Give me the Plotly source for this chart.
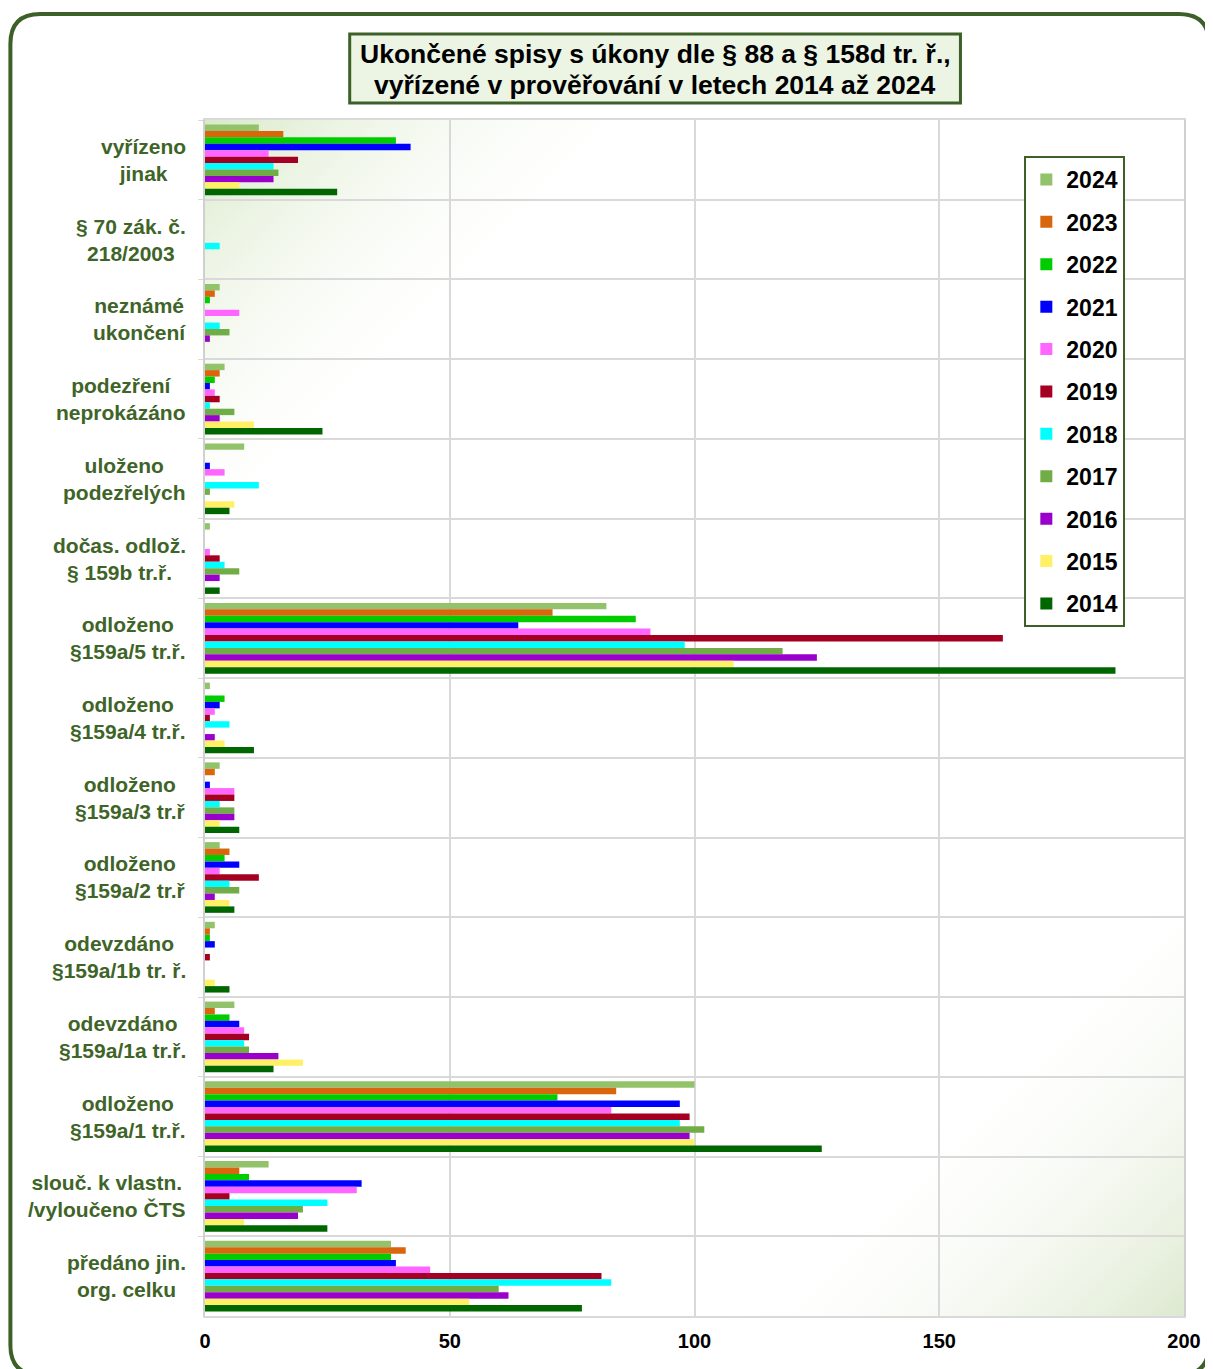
"""Ukončené spisy - horizontal grouped bars by year."""

import base64

import plotly.graph_objects as go

CATEGORIES = [
    "vyřízeno<br>jinak",
    "§ 70 zák. č.<br>218/2003",
    "neznámé<br>ukončení",
    "podezření<br>neprokázáno",
    "uloženo<br>podezřelých",
    "dočas. odlož.<br>§ 159b tr.ř.",
    "odloženo<br>§159a/5 tr.ř.",
    "odloženo<br>§159a/4 tr.ř.",
    "odloženo<br>§159a/3 tr.ř",
    "odloženo<br>§159a/2 tr.ř",
    "odevzdáno<br>§159a/1b tr. ř.",
    "odevzdáno<br>§159a/1a tr.ř.",
    "odloženo<br>§159a/1 tr.ř.",
    "slouč. k vlastn.<br>/vyloučeno ČTS",
    "předáno jin.<br>org. celku",
]

YEARS = ["2024", "2023", "2022", "2021", "2020", "2019", "2018", "2017", "2016", "2015", "2014"]

V2024 = [11, 0, 3, 4, 8, 1, 82, 1, 3, 3, 2, 6, 100, 13, 38]
V2023 = [16, 0, 2, 3, 0, 0, 71, 0, 2, 5, 1, 2, 84, 7, 41]
V2022 = [39, 0, 1, 2, 0, 0, 88, 4, 0, 4, 1, 5, 72, 9, 38]
V2021 = [42, 0, 0, 1, 1, 0, 64, 3, 1, 7, 2, 7, 97, 32, 39]
V2020 = [13, 0, 7, 2, 4, 1, 91, 2, 6, 3, 0, 8, 83, 31, 46]
V2019 = [19, 0, 0, 3, 0, 3, 163, 1, 6, 11, 1, 9, 99, 5, 81]
V2018 = [14, 3, 3, 1, 11, 4, 98, 5, 3, 5, 0, 8, 97, 25, 83]
V2017 = [15, 0, 5, 6, 1, 7, 118, 0, 6, 7, 0, 9, 102, 20, 60]
V2016 = [14, 0, 1, 3, 0, 3, 125, 2, 6, 2, 0, 15, 99, 19, 62]
V2015 = [7, 0, 0, 10, 6, 0, 108, 4, 3, 5, 2, 20, 100, 8, 54]
V2014 = [27, 0, 0, 24, 5, 3, 186, 10, 7, 6, 5, 14, 126, 25, 77]

VALUES = [V2024, V2023, V2022, V2021, V2020, V2019, V2018, V2017, V2016, V2015, V2014]

COLORS = [
    "#92c36b", "#d9650c", "#00cc00", "#0000ff", "#ff66ff", "#a50021",
    "#00ffff", "#70ad47", "#9900cc", "#fff066", "#006600",
]

TITLE_LINES = [
    "Ukončené spisy s úkony dle § 88 a § 158d tr. ř.,",
    "vyřízené v prověřování v letech 2014 až 2024",
]

FONT = "Liberation Sans, Arial, sans-serif"
LABEL_GREEN = "#3f6428"
BORDER_GREEN = "#3d5f28"

# the page body adds an 8px margin, so the figure is laid out 8px up/left
OFF = 8
W, H = 1213 - OFF, 1369 - OFF
L, T = 205 - OFF, 120 - OFF
R = W - (1186 - OFF)
B = H - (1316 - OFF)
PW, PH = W - L - R, H - T - B


def px_x(x):
    """Screen pixel x of the reference -> paper x."""
    return (x - OFF - L) / PW


def px_y(y):
    """Screen pixel y of the reference -> paper y."""
    return (H - B - (y - OFF)) / PH


# faint green corner gradients behind the plot area
svg = f"""<svg xmlns='http://www.w3.org/2000/svg' width='{PW}' height='{PH}' viewBox='0 0 {PW} {PH}' preserveAspectRatio='none'>
<defs>
<linearGradient id='a' gradientUnits='userSpaceOnUse' x1='0' y1='0' x2='240' y2='240'>
<stop offset='0' stop-color='#d9e9c8' stop-opacity='1'/><stop offset='1' stop-color='#ffffff' stop-opacity='0'/>
</linearGradient>
<linearGradient id='b' gradientUnits='userSpaceOnUse' x1='{PW}' y1='{PH}' x2='{PW - 240}' y2='{PH - 240}'>
<stop offset='0' stop-color='#dde9cf' stop-opacity='1'/><stop offset='1' stop-color='#ffffff' stop-opacity='0'/>
</linearGradient>
</defs>
<rect width='{PW}' height='{PH}' fill='url(#a)'/>
<rect width='{PW}' height='{PH}' fill='url(#b)'/>
</svg>"""
bg_uri = "data:image/svg+xml;base64," + base64.b64encode(svg.encode()).decode()

fig = go.Figure()
for year, vals, color in zip(YEARS, VALUES, COLORS):
    fig.add_trace(
        go.Bar(
            name=year,
            x=vals,
            y=CATEGORIES,
            orientation="h",
            marker=dict(color=color, line=dict(width=0)),
            legendgroup=year,
        )
    )

annotations = [
    dict(
        text=cat,
        xref="paper",
        yref="y",
        x=px_x(188),
        y=cat,
        xanchor="right",
        yanchor="middle",
        align="center",
        showarrow=False,
        font=dict(family=FONT, size=21, color=LABEL_GREEN, weight="bold"),
    )
    for cat in CATEGORIES
]
for line, ypx in zip(TITLE_LINES, [54, 85]):
    annotations.append(
        dict(
            text=line,
            xref="paper",
            yref="paper",
            x=px_x(656),
            y=px_y(ypx),
            xanchor="center",
            yanchor="middle",
            showarrow=False,
            font=dict(family=FONT, size=26.5, color="#000000", weight="bold"),
        )
    )

# outer rounded frame
x0, x1, y0, y1, r = px_x(10), px_x(1211), px_y(14), px_y(1375), 30
rx, ry = r / PW, r / PH
frame = (
    f"M {x0},{y1 + ry} L {x0},{y0 - ry} Q {x0},{y0} {x0 + rx},{y0} "
    f"L {x1 - rx},{y0} Q {x1},{y0} {x1},{y0 - ry} "
    f"L {x1},{y1 + ry} Q {x1},{y1} {x1 - rx},{y1} "
    f"L {x0 + rx},{y1} Q {x0},{y1} {x0},{y1 + ry} Z"
)

fig.update_layout(
    width=W,
    height=H,
    margin=dict(l=L, r=R, t=T, b=B),
    paper_bgcolor="#ffffff",
    plot_bgcolor="#ffffff",
    barmode="group",
    bargap=0.113,
    bargroupgap=0,
    font=dict(family=FONT),
    annotations=annotations,
    shapes=[
        dict(
            type="path",
            path=frame,
            xref="paper",
            yref="paper",
            line=dict(color=BORDER_GREEN, width=4),
            fillcolor="rgba(0,0,0,0)",
            layer="above",
        ),
        dict(
            type="rect",
            xref="paper",
            yref="paper",
            x0=px_x(350),
            x1=px_x(962),
            y0=px_y(34),
            y1=px_y(103),
            line=dict(color=BORDER_GREEN, width=3),
            fillcolor="#ecf4e4",
            layer="below",
        ),
    ],
    images=[
        dict(
            source=bg_uri,
            xref="paper",
            yref="paper",
            x=0,
            y=1,
            sizex=1,
            sizey=1,
            xanchor="left",
            yanchor="top",
            sizing="stretch",
            layer="below",
        )
    ],
    legend=dict(
        x=px_x(1026),
        y=px_y(156),
        xanchor="left",
        yanchor="top",
        traceorder="grouped",
        tracegroupgap=9.5,
        bgcolor="#ffffff",
        bordercolor=BORDER_GREEN,
        borderwidth=2,
        font=dict(family=FONT, size=23, color="#000000", weight="bold"),
        itemwidth=30,
    ),
    xaxis=dict(
        range=[0, 200],
        tickvals=[0, 50, 100, 150, 200],
        showgrid=True,
        gridcolor="#d9d9d9",
        gridwidth=1.5,
        zeroline=False,
        showline=True,
        linecolor="#d9d9d9",
        linewidth=1.5,
        mirror=True,
        ticks="",
        ticklabelstandoff=6,
        tickfont=dict(family=FONT, size=20, color="#000000", weight="bold"),
    ),
    yaxis=dict(
        autorange="reversed",
        type="category",
        tickson="boundaries",
        showgrid=True,
        gridcolor="#d9d9d9",
        gridwidth=1.5,
        showline=True,
        linecolor="#d0d0d0",
        linewidth=2,
        mirror=True,
        ticks="outside",
        ticklen=5,
        tickcolor="#d9d9d9",
        showticklabels=False,
    ),
)

fig.write_html("out.html")
